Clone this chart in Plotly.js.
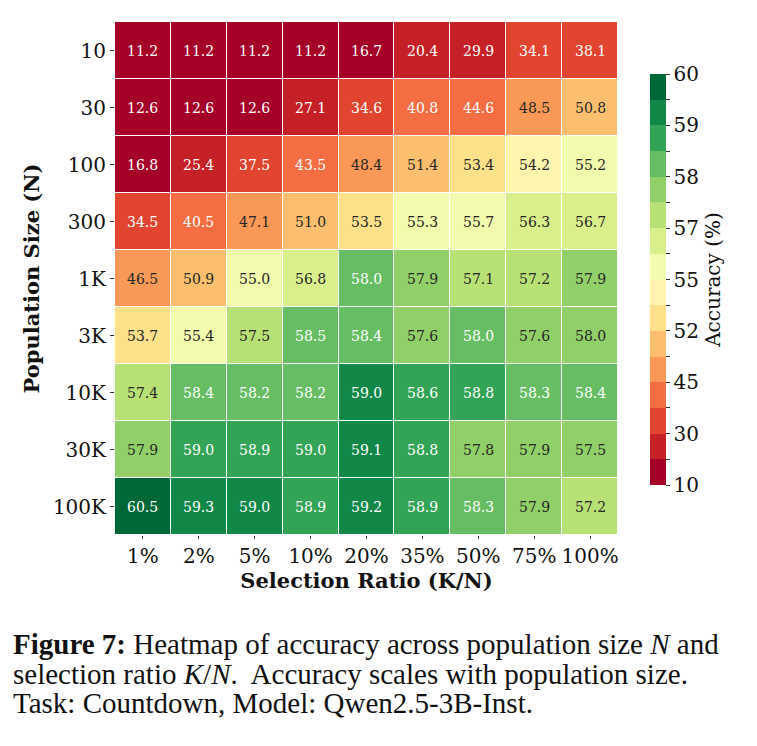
<!DOCTYPE html>
<html>
<head>
<meta charset="utf-8">
<script src="https://cdn.plot.ly/plotly-3.0.1.min.js"></script>
<style>html,body{margin:0;padding:0;background:#fff;}#chart{width:757px;height:746px;}</style>
</head>
<body>
<div id="chart"></div>
<script>
// ---- data ----
const populationSizes = ['10','30','100','300','1K','3K','10K','30K','100K'];
const selectionRatios = ['1%','2%','5%','10%','20%','35%','50%','75%','100%'];
const acc_10   = [11.2, 11.2, 11.2, 11.2, 16.7, 20.4, 29.9, 34.1, 38.1];
const acc_30   = [12.6, 12.6, 12.6, 27.1, 34.6, 40.8, 44.6, 48.5, 50.8];
const acc_100  = [16.8, 25.4, 37.5, 43.5, 48.4, 51.4, 53.4, 54.2, 55.2];
const acc_300  = [34.5, 40.5, 47.1, 51.0, 53.5, 55.3, 55.7, 56.3, 56.7];
const acc_1K   = [46.5, 50.9, 55.04, 56.8, 58.02, 57.9, 57.1, 57.2, 57.9];
const acc_3K   = [53.7, 55.4, 57.46, 58.46, 58.4, 57.6, 58.02, 57.6, 57.96];
const acc_10K  = [57.4, 58.4, 58.2, 58.2, 59.04, 58.6, 58.8, 58.3, 58.4];
const acc_30K  = [57.9, 58.96, 58.9, 58.96, 59.1, 58.8, 57.8, 57.9, 57.54];
const acc_100K = [60.5, 59.3, 59.04, 58.9, 59.2, 58.9, 58.3, 57.9, 57.2];
const colorBoundaries = [10, 20, 30, 40, 45, 50, 52, 54, 55, 56, 57, 57.5, 58, 58.5, 59, 59.5, 60];
const colorbarLabels = ['10','','30','','45','','52','','55','','57','','58','','59','','60'];
const bandColors = ['#a50026','#c62027','#e1442f','#f46d43','#fa9857','#fdbf6f','#fee08b','#fff5ae',
                    '#f2faae','#d9ef8b','#b7e075','#91d068','#66bd63','#33a456','#118848','#006837'];

const acc = [acc_10, acc_30, acc_100, acc_300, acc_1K, acc_3K, acc_10K, acc_30K, acc_100K];
const nb = bandColors.length;
function band(v){
  let k = 0;
  for (let i = 1; i < colorBoundaries.length - 1; i++) if (v >= colorBoundaries[i]) k = i;
  return Math.min(k, nb - 1);
}
const zBand = acc.map(r => r.map(v => band(v) + 0.5));
const colorscale = [];
bandColors.forEach((c, i) => { colorscale.push([i / nb, c]); colorscale.push([(i + 1) / nb, c]); });

const serif = 'DejaVu Serif';
const annotations = [];
acc.forEach((row, i) => row.forEach((v, j) => {
  const b = band(v);
  annotations.push({
    x: j, y: i, xref: 'x', yref: 'y',
    text: v.toFixed(1), showarrow: false,
    font: {family: serif, size: 14, color: (b <= 3 || b >= 12) ? '#ffffff' : '#262626'}
  });
}));

// caption
const px = v => (v - 115) / 503, py = v => (535 - v) / 513;
const capFont = {family: 'Liberation Serif', size: 29, color: '#111'};
[
  '<b>Figure 7:</b> Heatmap of accuracy across population size <i>N</i> and',
  'selection ratio <i>K</i>/<i>N</i>.  Accuracy scales with population size.',
  'Task: Countdown, Model: Qwen2.5-3B-Inst.'
].forEach((t, k) => annotations.push({
  xref: 'paper', yref: 'paper', x: px(11), y: py(644 + k * 29.5),
  xanchor: 'left', yanchor: 'middle', text: t, showarrow: false, font: capFont
}));

const trace = {
  type: 'heatmap', x: selectionRatios, y: populationSizes, z: zBand,
  zmin: 0, zmax: nb, colorscale: colorscale, xgap: 1, ygap: 1, hoverinfo: 'skip',
  colorbar: {
    x: px(650), xanchor: 'left', xpad: 0, ypad: 0,
    y: py(279.5), yanchor: 'middle', len: 411 / 513, lenmode: 'fraction',
    thickness: 16, outlinewidth: 0,
    tickmode: 'array', tickvals: colorBoundaries.map((_, i) => i), ticktext: colorbarLabels,
    ticks: 'outside', ticklen: 4, tickcolor: '#333', tickwidth: 1,
    tickfont: {family: serif, size: 20, color: '#111'},
    title: {text: 'Accuracy (%)', side: 'right', font: {family: serif, size: 20, color: '#111'}}
  }
};

const layout = {
  width: 757, height: 746,
  margin: {l: 115, r: 139, t: 22, b: 211},
  paper_bgcolor: '#fff', plot_bgcolor: '#fff',
  font: {family: serif, color: '#111'},
  xaxis: {
    type: 'category', range: [-0.5, 8.5], showgrid: false, zeroline: false, showline: false,
    ticks: 'outside', ticklen: 3, tickcolor: '#333',
    tickfont: {family: serif, size: 20, color: '#111'},
    title: {text: 'Selection Ratio (K/N)', standoff: 2, font: {family: serif, size: 21, weight: 'bold', color: '#111'}}
  },
  yaxis: {
    type: 'category', range: [8.5, -0.5], showgrid: false, zeroline: false, showline: false,
    ticks: 'outside', ticklen: 4, tickcolor: '#333',
    tickfont: {family: serif, size: 20, color: '#111'},
    title: {text: 'Population Size (N)', standoff: 7, font: {family: serif, size: 21, weight: 'bold', color: '#111'}}
  },
  annotations: annotations,
  showlegend: false
};

Plotly.newPlot('chart', [trace], layout, {staticPlot: true, displayModeBar: false});
</script>
</body>
</html>
